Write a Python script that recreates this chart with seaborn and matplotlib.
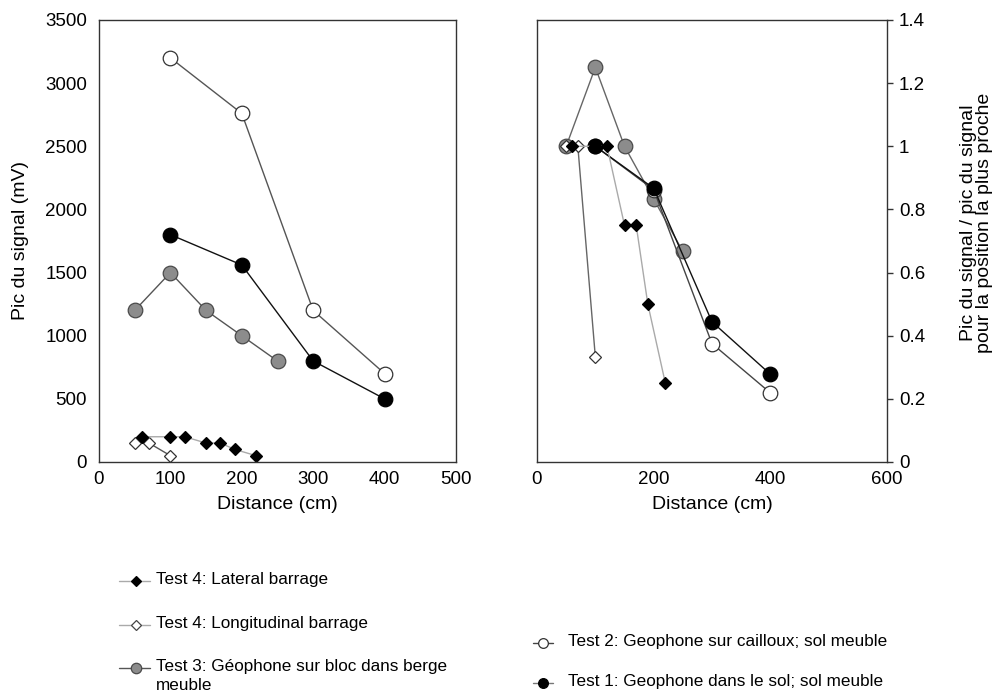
import numpy as np
import pandas as pd
import matplotlib
matplotlib.use("Agg")
import matplotlib.pyplot as plt
from matplotlib.lines import Line2D
from matplotlib.ticker import FuncFormatter
import seaborn as sns

# ---------------- data ----------------
lat_x = [60, 100, 120, 150, 170, 190, 220]
lat_peak = [200, 200, 200, 150, 150, 100, 50]
lat_ratio = [1.0, 1.0, 1.0, 0.75, 0.75, 0.5, 0.25]

lon_x = [50, 70, 100]
lon_peak = [150, 150, 50]
lon_ratio = [1.0, 1.0, 0.333]

t3_x = [50, 100, 150, 200, 250]
t3_peak = [1200, 1500, 1200, 1000, 800]
t3_ratio = [1.0, 1.25, 1.0, 0.833, 0.667]

t2_x = [100, 200, 300, 400]
t2_peak = [3200, 2760, 1200, 700]
t2_ratio = [1.0, 0.8625, 0.375, 0.219]

t1_x = [100, 200, 300, 400]
t1_peak = [1800, 1560, 800, 500]
t1_ratio = [1.0, 0.867, 0.444, 0.278]

labels = ["Test 4: Lateral barrage",
          "Test 4: Longitudinal barrage",
          "Test 3: Géophone sur bloc dans berge\nmeuble",
          "Test 2: Geophone sur cailloux; sol meuble",
          "Test 1: Geophone dans le sol; sol meuble"]

left_xticks = [0, 100, 200, 300, 400, 500]
left_yticks = [0, 500, 1000, 1500, 2000, 2500, 3000, 3500]
right_xticks = [0, 200, 400, 600]
right_yticks = [0, 0.2, 0.4, 0.6, 0.8, 1.0, 1.2, 1.4]

# ---------------- style ----------------
sns.set_style("white")
plt.rcParams['font.family'] = ['Liberation Sans', 'DejaVu Sans']
plt.rcParams['axes.edgecolor'] = '#333333'
plt.rcParams['axes.linewidth'] = 1.0
plt.rcParams['text.color'] = 'black'
plt.rcParams['axes.labelcolor'] = 'black'
plt.rcParams['xtick.color'] = 'black'
plt.rcParams['ytick.color'] = 'black'

fig = plt.figure(figsize=(9.94, 6.93), dpi=100)
W, H = 994, 693


def fbox(x0, y0, x1, y1):
    return [x0 / W, 1 - y1 / H, (x1 - x0) / W, (y1 - y0) / H]


ax1 = fig.add_axes(fbox(99, 20, 456, 462))
ax2 = fig.add_axes(fbox(537, 20, 887, 462))

GREY_FILL = '#8c8c8c'
GREY_EDGE = '#4a4a4a'

series = [
    # x, peak, ratio, marker, ms, face, edge, line colour left, line colour right
    (t3_x, t3_peak, t3_ratio, 'o', 10.5, GREY_FILL, GREY_EDGE, '#555555', '#666666'),
    (t2_x, t2_peak, t2_ratio, 'o', 10.5, 'white', '#333333', '#555555', '#444444'),
    (t1_x, t1_peak, t1_ratio, 'o', 10.5, 'black', 'black', '#111111', '#111111'),
    (lon_x, lon_peak, lon_ratio, 'D', 6.5, 'white', '#333333', '#555555', '#666666'),
    (lat_x, lat_peak, lat_ratio, 'D', 6.5, 'black', 'black', '#aaaaaa', '#aaaaaa'),
]

for x, pk, rt, mk, ms, fc, ec, lc1, lc2 in series:
    sns.lineplot(x=x, y=pk, ax=ax1, sort=False, estimator=None, color=lc1,
                 linewidth=1.0, marker=mk, markersize=ms, markerfacecolor=fc,
                 markeredgecolor=ec, markeredgewidth=0.9)
    sns.lineplot(x=x, y=rt, ax=ax2, sort=False, estimator=None, color=lc2,
                 linewidth=1.0, marker=mk, markersize=ms, markerfacecolor=fc,
                 markeredgecolor=ec, markeredgewidth=0.9)

# ---------------- axes ----------------
TICK_FS = 13.5
LAB_FS = 14

ax1.set_xlim(0, 500)
ax1.set_ylim(0, 3500)
ax1.set_xticks(left_xticks)
ax1.set_yticks(left_yticks)
ax2.set_xlim(0, 600)
ax2.set_ylim(0, 1.4)
ax2.set_xticks(right_xticks)
ax2.set_yticks(right_yticks)
ax2.yaxis.set_major_formatter(FuncFormatter(lambda v, p: '%g' % v))

for ax in (ax1, ax2):
    for s in ax.spines.values():
        s.set_visible(True)
        s.set_color('#333333')
    ax.tick_params(axis='both', which='major', direction='out', length=4.5,
                   width=1.0, color='#333333', labelcolor='black',
                   labelsize=TICK_FS, pad=2)
    ax.set_xlabel('Distance (cm)', fontsize=LAB_FS, labelpad=6, color='black')
    ax.grid(False)

ax1.tick_params(axis='y', pad=4)
ax1.set_ylabel('Pic du signal (mV)', fontsize=LAB_FS, color='black')
ax1.yaxis.set_label_coords((29 - 99) / 357, 0.5)

ax2.yaxis.tick_right()
ax2.yaxis.set_label_position('right')
ax2.tick_params(axis='y', pad=4)
ax2.set_ylabel('Pic du signal / pic du signal\npour la position la plus proche',
               fontsize=LAB_FS, linespacing=0.95, color='black')
ax2.yaxis.set_label_coords((960 - 537) / 350, 0.541)

# ---------------- legend (drawn manually) ----------------
LEG_FS = 12.3


def leg_entry(x0, x1, xm, y, mk, ms, fc, ec, lc, text, tx):
    yy = 1 - y / H
    fig.add_artist(Line2D([x0 / W, x1 / W], [yy, yy], color=lc, linewidth=1.0,
                          transform=fig.transFigure))
    fig.add_artist(Line2D([xm / W], [yy], marker=mk, markersize=ms,
                          markerfacecolor=fc, markeredgecolor=ec,
                          markeredgewidth=0.9, linestyle='none',
                          transform=fig.transFigure))
    fig.text(tx / W, 1 - (y - 9) / H, text, fontsize=LEG_FS, ha='left',
             va='top', linespacing=1.3, color='black')


leg_entry(119, 150, 136, 581, 'D', 4.8, 'black', 'black', '#aaaaaa', labels[0], 156)
leg_entry(119, 150, 136, 625, 'D', 4.8, 'white', '#444444', '#aaaaaa', labels[1], 156)
leg_entry(119, 150, 136, 668, 'o', 7.5, GREY_FILL, GREY_EDGE, '#555555', labels[2], 156)
leg_entry(533, 553, 543, 643, 'o', 7.0, 'white', '#333333', '#444444', labels[3], 568)
leg_entry(533, 553, 543, 683, 'o', 7.0, 'black', 'black', '#777777', labels[4], 568)

fig.savefig('out.png', dpi=100, facecolor='white')
